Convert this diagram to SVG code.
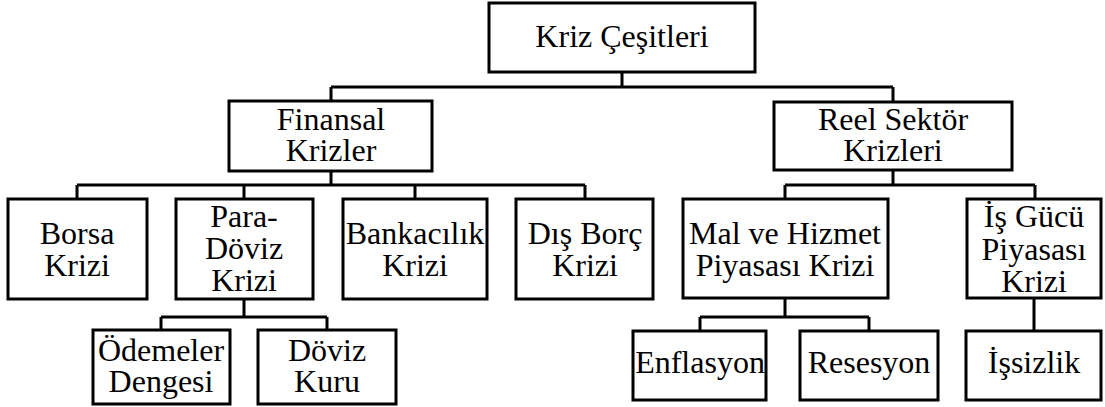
<svg xmlns="http://www.w3.org/2000/svg" width="1105" height="407" viewBox="0 0 1105 407" font-family="Liberation Serif, DejaVu Serif, serif">
  <style>
    .box { fill: #fff; stroke: #000; stroke-width: 3; }
    .wire { fill: none; stroke: #000; stroke-width: 3; }
    .lbl { font-family: 'Liberation Serif', 'DejaVu Serif', serif; font-size: 32px; fill: #000; text-anchor: middle; }
  </style>
  <rect width="1105" height="407" fill="#fff"/>

  <!-- connectors -->
  <g id="connectors" class="wire">
    <path d="M622 72 V87 M331 87 H893 M331 87 V101 M893 87 V102"/>
    <path d="M331 171 V185 M77 185 H585 M77 185 V199 M244 185 V199 M415 185 V199 M585 185 V199"/>
    <path d="M893 170 V185 M785 185 H1035 M785 185 V199 M1035 185 V199"/>
    <path d="M244 299 V317 M161 317 H327 M161 317 V330 M327 317 V330"/>
    <path d="M785 298 V317 M700 317 H869 M700 317 V331 M869 317 V331"/>
    <path d="M1034 298 V331"/>
  </g>

  <!-- root -->
  <g id="kriz-cesitleri">
    <rect class="box" x="489" y="3" width="266" height="69"/>
    <text class="lbl" x="622" y="47">Kriz Çeşitleri</text>
  </g>

  <!-- second level -->
  <g id="finansal-krizler">
    <rect class="box" x="229" y="101" width="203" height="70"/>
    <text class="lbl" x="331" y="130">Finansal</text>
    <text class="lbl" x="331" y="161">Krizler</text>
  </g>
  <g id="reel-sektor-krizleri">
    <rect class="box" x="774" y="102" width="238" height="68"/>
    <text class="lbl" x="893" y="130">Reel Sektör</text>
    <text class="lbl" x="893" y="161">Krizleri</text>
  </g>

  <!-- third level -->
  <g id="borsa-krizi">
    <rect class="box" x="8" y="199" width="139" height="100"/>
    <text class="lbl" x="77" y="244">Borsa</text>
    <text class="lbl" x="77" y="276">Krizi</text>
  </g>
  <g id="para-doviz-krizi">
    <rect class="box" x="176" y="199" width="137" height="100"/>
    <text class="lbl" x="244" y="227">Para-</text>
    <text class="lbl" x="244" y="259">Döviz</text>
    <text class="lbl" x="244" y="291">Krizi</text>
  </g>
  <g id="bankacilik-krizi">
    <rect class="box" x="343" y="199" width="144" height="100"/>
    <text class="lbl" x="415" y="244">Bankacılık</text>
    <text class="lbl" x="415" y="276">Krizi</text>
  </g>
  <g id="dis-borc-krizi">
    <rect class="box" x="516" y="199" width="137" height="100"/>
    <text class="lbl" x="585" y="244">Dış Borç</text>
    <text class="lbl" x="585" y="276">Krizi</text>
  </g>
  <g id="mal-hizmet-piyasasi-krizi">
    <rect class="box" x="683" y="199" width="205" height="99"/>
    <text class="lbl" x="785" y="244">Mal ve Hizmet</text>
    <text class="lbl" x="785" y="276">Piyasası Krizi</text>
  </g>
  <g id="is-gucu-piyasasi-krizi">
    <rect class="box" x="967" y="199" width="134" height="99"/>
    <text class="lbl" x="1034" y="227">İş Gücü</text>
    <text class="lbl" x="1034" y="260">Piyasası</text>
    <text class="lbl" x="1034" y="292">Krizi</text>
  </g>

  <!-- fourth level -->
  <g id="odemeler-dengesi">
    <rect class="box" x="93" y="330" width="137" height="74"/>
    <text class="lbl" x="161" y="361">Ödemeler</text>
    <text class="lbl" x="161" y="392">Dengesi</text>
  </g>
  <g id="doviz-kuru">
    <rect class="box" x="258" y="330" width="138" height="74"/>
    <text class="lbl" x="327" y="361">Döviz</text>
    <text class="lbl" x="327" y="392">Kuru</text>
  </g>
  <g id="enflasyon">
    <rect class="box" x="633" y="331" width="133" height="69"/>
    <text class="lbl" x="700" y="373">Enflasyon</text>
  </g>
  <g id="resesyon">
    <rect class="box" x="800" y="331" width="138" height="69"/>
    <text class="lbl" x="869" y="373">Resesyon</text>
  </g>
  <g id="issizlik">
    <rect class="box" x="966" y="331" width="135" height="69"/>
    <text class="lbl" x="1034" y="373">İşsizlik</text>
  </g>
</svg>
